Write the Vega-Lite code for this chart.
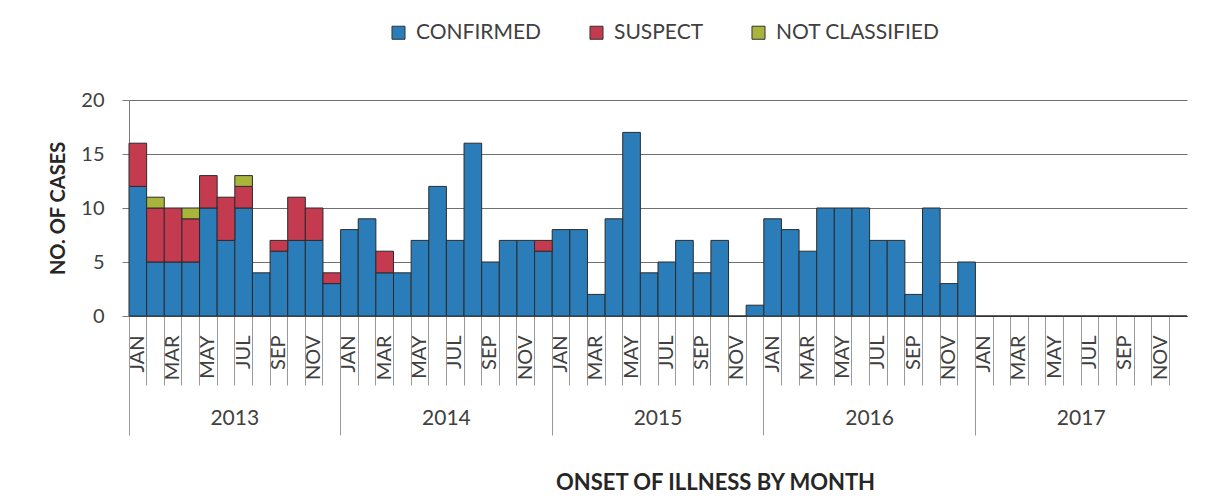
{
  "$schema": "https://vega.github.io/schema/vega-lite/v6.json",
  "autosize": "none",
  "width": 1058,
  "height": 216,
  "padding": {"left": 129, "top": 100, "right": 26, "bottom": 183},
  "background": "white",
  "config": {
    "font": "Lato",
    "view": {"stroke": null},
    "axis": {"labelColor": "#404040", "titleColor": "#262626", "labelFont": "Lato", "titleFont": "Lato"}
  },
  "data": {"values": [
    {"m": "2013 JAN", "year": "2013", "cat": "CONFIRMED", "k": 1, "n": 12},
    {"m": "2013 FEB", "year": "2013", "cat": "CONFIRMED", "k": 1, "n": 5},
    {"m": "2013 MAR", "year": "2013", "cat": "CONFIRMED", "k": 1, "n": 5},
    {"m": "2013 APR", "year": "2013", "cat": "CONFIRMED", "k": 1, "n": 5},
    {"m": "2013 MAY", "year": "2013", "cat": "CONFIRMED", "k": 1, "n": 10},
    {"m": "2013 JUN", "year": "2013", "cat": "CONFIRMED", "k": 1, "n": 7},
    {"m": "2013 JUL", "year": "2013", "cat": "CONFIRMED", "k": 1, "n": 10},
    {"m": "2013 AUG", "year": "2013", "cat": "CONFIRMED", "k": 1, "n": 4},
    {"m": "2013 SEP", "year": "2013", "cat": "CONFIRMED", "k": 1, "n": 6},
    {"m": "2013 OCT", "year": "2013", "cat": "CONFIRMED", "k": 1, "n": 7},
    {"m": "2013 NOV", "year": "2013", "cat": "CONFIRMED", "k": 1, "n": 7},
    {"m": "2013 DEC", "year": "2013", "cat": "CONFIRMED", "k": 1, "n": 3},
    {"m": "2014 JAN", "year": "2014", "cat": "CONFIRMED", "k": 1, "n": 8},
    {"m": "2014 FEB", "year": "2014", "cat": "CONFIRMED", "k": 1, "n": 9},
    {"m": "2014 MAR", "year": "2014", "cat": "CONFIRMED", "k": 1, "n": 4},
    {"m": "2014 APR", "year": "2014", "cat": "CONFIRMED", "k": 1, "n": 4},
    {"m": "2014 MAY", "year": "2014", "cat": "CONFIRMED", "k": 1, "n": 7},
    {"m": "2014 JUN", "year": "2014", "cat": "CONFIRMED", "k": 1, "n": 12},
    {"m": "2014 JUL", "year": "2014", "cat": "CONFIRMED", "k": 1, "n": 7},
    {"m": "2014 AUG", "year": "2014", "cat": "CONFIRMED", "k": 1, "n": 16},
    {"m": "2014 SEP", "year": "2014", "cat": "CONFIRMED", "k": 1, "n": 5},
    {"m": "2014 OCT", "year": "2014", "cat": "CONFIRMED", "k": 1, "n": 7},
    {"m": "2014 NOV", "year": "2014", "cat": "CONFIRMED", "k": 1, "n": 7},
    {"m": "2014 DEC", "year": "2014", "cat": "CONFIRMED", "k": 1, "n": 6},
    {"m": "2015 JAN", "year": "2015", "cat": "CONFIRMED", "k": 1, "n": 8},
    {"m": "2015 FEB", "year": "2015", "cat": "CONFIRMED", "k": 1, "n": 8},
    {"m": "2015 MAR", "year": "2015", "cat": "CONFIRMED", "k": 1, "n": 2},
    {"m": "2015 APR", "year": "2015", "cat": "CONFIRMED", "k": 1, "n": 9},
    {"m": "2015 MAY", "year": "2015", "cat": "CONFIRMED", "k": 1, "n": 17},
    {"m": "2015 JUN", "year": "2015", "cat": "CONFIRMED", "k": 1, "n": 4},
    {"m": "2015 JUL", "year": "2015", "cat": "CONFIRMED", "k": 1, "n": 5},
    {"m": "2015 AUG", "year": "2015", "cat": "CONFIRMED", "k": 1, "n": 7},
    {"m": "2015 SEP", "year": "2015", "cat": "CONFIRMED", "k": 1, "n": 4},
    {"m": "2015 OCT", "year": "2015", "cat": "CONFIRMED", "k": 1, "n": 7},
    {"m": "2015 NOV", "year": "2015", "cat": "CONFIRMED", "k": 1, "n": 0},
    {"m": "2015 DEC", "year": "2015", "cat": "CONFIRMED", "k": 1, "n": 1},
    {"m": "2016 JAN", "year": "2016", "cat": "CONFIRMED", "k": 1, "n": 9},
    {"m": "2016 FEB", "year": "2016", "cat": "CONFIRMED", "k": 1, "n": 8},
    {"m": "2016 MAR", "year": "2016", "cat": "CONFIRMED", "k": 1, "n": 6},
    {"m": "2016 APR", "year": "2016", "cat": "CONFIRMED", "k": 1, "n": 10},
    {"m": "2016 MAY", "year": "2016", "cat": "CONFIRMED", "k": 1, "n": 10},
    {"m": "2016 JUN", "year": "2016", "cat": "CONFIRMED", "k": 1, "n": 10},
    {"m": "2016 JUL", "year": "2016", "cat": "CONFIRMED", "k": 1, "n": 7},
    {"m": "2016 AUG", "year": "2016", "cat": "CONFIRMED", "k": 1, "n": 7},
    {"m": "2016 SEP", "year": "2016", "cat": "CONFIRMED", "k": 1, "n": 2},
    {"m": "2016 OCT", "year": "2016", "cat": "CONFIRMED", "k": 1, "n": 10},
    {"m": "2016 NOV", "year": "2016", "cat": "CONFIRMED", "k": 1, "n": 3},
    {"m": "2016 DEC", "year": "2016", "cat": "CONFIRMED", "k": 1, "n": 5},
    {"m": "2017 JAN", "year": "2017", "cat": "CONFIRMED", "k": 1, "n": 0},
    {"m": "2017 FEB", "year": "2017", "cat": "CONFIRMED", "k": 1, "n": 0},
    {"m": "2017 MAR", "year": "2017", "cat": "CONFIRMED", "k": 1, "n": 0},
    {"m": "2017 APR", "year": "2017", "cat": "CONFIRMED", "k": 1, "n": 0},
    {"m": "2017 MAY", "year": "2017", "cat": "CONFIRMED", "k": 1, "n": 0},
    {"m": "2017 JUN", "year": "2017", "cat": "CONFIRMED", "k": 1, "n": 0},
    {"m": "2017 JUL", "year": "2017", "cat": "CONFIRMED", "k": 1, "n": 0},
    {"m": "2017 AUG", "year": "2017", "cat": "CONFIRMED", "k": 1, "n": 0},
    {"m": "2017 SEP", "year": "2017", "cat": "CONFIRMED", "k": 1, "n": 0},
    {"m": "2017 OCT", "year": "2017", "cat": "CONFIRMED", "k": 1, "n": 0},
    {"m": "2017 NOV", "year": "2017", "cat": "CONFIRMED", "k": 1, "n": 0},
    {"m": "2017 DEC", "year": "2017", "cat": "CONFIRMED", "k": 1, "n": 0},
    {"m": "2013 JAN", "year": "2013", "cat": "SUSPECT", "k": 2, "n": 4},
    {"m": "2013 FEB", "year": "2013", "cat": "SUSPECT", "k": 2, "n": 5},
    {"m": "2013 MAR", "year": "2013", "cat": "SUSPECT", "k": 2, "n": 5},
    {"m": "2013 APR", "year": "2013", "cat": "SUSPECT", "k": 2, "n": 4},
    {"m": "2013 MAY", "year": "2013", "cat": "SUSPECT", "k": 2, "n": 3},
    {"m": "2013 JUN", "year": "2013", "cat": "SUSPECT", "k": 2, "n": 4},
    {"m": "2013 JUL", "year": "2013", "cat": "SUSPECT", "k": 2, "n": 2},
    {"m": "2013 SEP", "year": "2013", "cat": "SUSPECT", "k": 2, "n": 1},
    {"m": "2013 OCT", "year": "2013", "cat": "SUSPECT", "k": 2, "n": 4},
    {"m": "2013 NOV", "year": "2013", "cat": "SUSPECT", "k": 2, "n": 3},
    {"m": "2013 DEC", "year": "2013", "cat": "SUSPECT", "k": 2, "n": 1},
    {"m": "2014 MAR", "year": "2014", "cat": "SUSPECT", "k": 2, "n": 2},
    {"m": "2014 DEC", "year": "2014", "cat": "SUSPECT", "k": 2, "n": 1},
    {"m": "2013 FEB", "year": "2013", "cat": "NOT CLASSIFIED", "k": 3, "n": 1},
    {"m": "2013 APR", "year": "2013", "cat": "NOT CLASSIFIED", "k": 3, "n": 1},
    {"m": "2013 JUL", "year": "2013", "cat": "NOT CLASSIFIED", "k": 3, "n": 1}
  ]},
  "layer": [
    {
      "mark": {"type": "bar", "stroke": "#2b2b2b", "strokeWidth": 1},
      "encoding": {
        "x": {
          "field": "m", "type": "ordinal", "sort": null,
          "scale": {"paddingInner": 0, "paddingOuter": 0},
          "axis": {
            "title": null,
            "orient": "bottom",
            "bandPosition": 0,
            "domainColor": "#595959",
            "domainWidth": 1.2,
            "tickColor": "#9a9a9a",
            "tickSize": 69,
            "labelAngle": 270,
            "labelAlign": "right",
            "labelBaseline": "middle",
            "labelPadding": -50,
            "labelFontSize": 20,
            "labelExpr": "test(/JAN|MAR|MAY|JUL|SEP|NOV/, datum.value) ? slice(datum.value, 5) : ''"
          }
        },
        "y": {
          "field": "n", "type": "quantitative", "aggregate": "sum", "stack": "zero",
          "scale": {"domain": [0, 20]},
          "axis": {
            "title": "NO. OF CASES",
            "titleFontSize": 20,
            "titleFontWeight": "bold",
            "titlePadding": 12,
            "values": [0, 5, 10, 15, 20],
            "labelFontSize": 20,
            "labelPadding": 18,
            "tickSize": 7,
            "tickColor": "#7a7a7a",
            "domainColor": "#7a7a7a",
            "gridColor": "#6f6f6f",
            "gridWidth": 1.2
          }
        },
        "order": {"field": "k", "type": "quantitative", "sort": "ascending"},
        "color": {
          "field": "cat", "type": "nominal",
          "sort": ["CONFIRMED", "SUSPECT", "NOT CLASSIFIED"],
          "scale": {"domain": ["CONFIRMED", "SUSPECT", "NOT CLASSIFIED"], "range": ["#2A7DB8", "#C43B50", "#A8B43C"]},
          "legend": {
            "title": null,
            "orient": "none",
            "direction": "horizontal",
            "legendX": 259,
            "legendY": -78,
            "symbolType": "square",
            "symbolSize": 170,
            "symbolStrokeColor": "#333",
            "symbolStrokeWidth": 1,
            "symbolOpacity": 1,
            "labelFontSize": 21,
            "labelLimit": 400,
            "labelColor": "#404040",
            "labelOffset": 7,
            "columnPadding": 44
          }
        }
      }
    },
    {
      "mark": {"type": "bar", "opacity": 0},
      "encoding": {
        "x": {
          "field": "year", "type": "ordinal",
          "scale": {"paddingInner": 0, "paddingOuter": 0},
          "axis": {
            "title": "ONSET OF ILLNESS BY MONTH",
            "titleFontSize": 22,
            "titleFontWeight": "bold",
            "titlePadding": 37,
            "titleX": 586,
            "orient": "bottom",
            "domain": false,
            "bandPosition": 0,
            "tickColor": "#9a9a9a",
            "tickSize": 119,
            "labelAngle": 0,
            "labelPadding": -28,
            "labelFontSize": 21
          }
        }
      }
    }
  ],
  "resolve": {"scale": {"x": "independent"}, "axis": {"x": "independent"}}
}
